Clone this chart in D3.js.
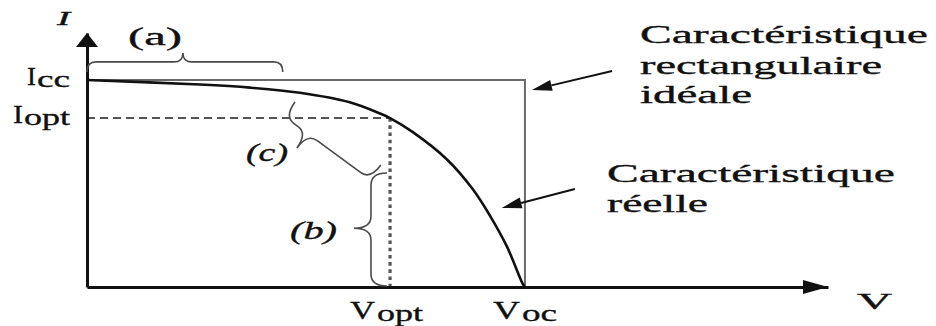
<!DOCTYPE html>
<html>
<head>
<meta charset="utf-8">
<script src="https://cdn.jsdelivr.net/npm/d3@7"></script>
<style>
  html, body { margin: 0; padding: 0; background: #fff; }
  svg { display: block; }
  text { font-family: "Liberation Serif", "Times New Roman", serif; fill: #111; stroke: #111; stroke-width: 0.35; }
</style>
</head>
<body>
<svg id="chart" width="936" height="326"></svg>
<script>
// Normalised I-V characteristic of a photovoltaic cell (V / Voc, I / Icc)
const curveV = [0, 0.258, 0.372, 0.486, 0.600, 0.669, 0.692, 0.744, 0.822, 0.881, 0.920, 0.959, 0.995, 1];
const curveI = [1, 0.978, 0.963, 0.938, 0.892, 0.838, 0.816, 0.748, 0.616, 0.472, 0.345, 0.195, 0.015, 0];

// Key operating values
const Icc = 1, Voc = 1;
const Iopt = 0.816, Vopt = 0.692;

// Axis extents (arrow tips)
const vAxisMax = 1.692, iAxisMax = 1.227;

// Axis labels: main letter + subscript
const yLabelMain = ["I", "I"];
const yLabelSub = ["cc", "opt"];
const yLabelVal = [Icc, Iopt];
const xLabelMain = ["V", "V"];
const xLabelSub = ["opt", "oc"];
const xLabelVal = [Vopt, Voc];

const svg = d3.select("#chart");
const x = d3.scaleLinear().domain([0, vAxisMax]).range([87, 828]);
const y = d3.scaleLinear().domain([0, iAxisMax]).range([287, 33]);

function label(txt, px, py, size, len, opts = {}) {
  return svg.append("text")
    .attr("x", px).attr("y", py)
    .attr("font-size", size)
    .attr("font-style", opts.italic ? "italic" : "normal")
    .attr("textLength", len)
    .attr("lengthAdjust", "spacingAndGlyphs")
    .text(txt);
}

// Ideal rectangular characteristic
svg.append("path")
  .attr("d", d3.line()([[x(0), y(Icc)], [x(Voc), y(Icc)], [x(Voc), y(0)]]))
  .attr("fill", "none").attr("stroke", "#6a6a6a").attr("stroke-width", 2);

// Optimum point guides
svg.append("line")
  .attr("x1", x(0)).attr("x2", x(Vopt)).attr("y1", y(Iopt)).attr("y2", y(Iopt))
  .attr("stroke", "#555").attr("stroke-width", 2).attr("stroke-dasharray", "8,5");
svg.append("line")
  .attr("x1", x(Vopt)).attr("x2", x(Vopt)).attr("y1", y(Iopt)).attr("y2", y(0))
  .attr("stroke", "#555").attr("stroke-width", 3.2).attr("stroke-dasharray", "3.6,3.6");

// Real characteristic
const pts = curveV.map((v, i) => [v, curveI[i]]);
svg.append("path")
  .attr("d", d3.line().x(d => x(d[0])).y(d => y(d[1])).curve(d3.curveCatmullRom.alpha(0.5))(pts))
  .attr("fill", "none").attr("stroke", "#111").attr("stroke-width", 2.6);

// Axes (no ticks, just the lines) with arrowheads
svg.append("g").attr("transform", `translate(0,${y(0)})`)
  .call(d3.axisBottom(x).tickValues([]).tickSizeOuter(0))
  .call(g => g.select(".domain").attr("stroke", "#111").attr("stroke-width", 3));
svg.append("g").attr("transform", `translate(${x(0)},0)`)
  .call(d3.axisLeft(y).tickValues([]).tickSizeOuter(0))
  .call(g => g.select(".domain").attr("stroke", "#111").attr("stroke-width", 3));

svg.append("path")
  .attr("d", `M${x(vAxisMax)},${y(0)} L${x(vAxisMax) - 25},${y(0) - 7} L${x(vAxisMax) - 25},${y(0) + 7} Z`)
  .attr("fill", "#111");
svg.append("path")
  .attr("d", `M${x(0)},${y(iAxisMax)} L${x(0) - 11},${y(iAxisMax) + 14} L${x(0) + 11},${y(iAxisMax) + 14} Z`)
  .attr("fill", "#111");

// Curly brace between two points: depth w at the tip, spine depth h,
// tip at fraction t along p1->p2, hook radius r
function brace(p1, p2, w, h, t, r) {
  const dx = p2[0] - p1[0], dy = p2[1] - p1[1], L = Math.hypot(dx, dy);
  const ux = dx / L, uy = dy / L, nx = uy, ny = -ux;
  const P = (s, d) => `${p1[0] + ux * s + nx * d},${p1[1] + uy * s + ny * d}`;
  const T = t * L;
  return `M${P(0, 0)} Q${P(0, h)} ${P(r, h)} L${P(T - r, h)} Q${P(T, h)} ${P(T, w)}` +
         ` M${P(L, 0)} Q${P(L, h)} ${P(L - r, h)} L${P(T + r, h)} Q${P(T, h)} ${P(T, w)}`;
}
const braces = [
  { a: [0, 1.039], b: [0.447, 1.039], w: 19, h: 10, t: 0.49, r: 9 },
  { a: [0.685, 0.005], b: [0.685, 0.551], w: 33, h: 16, t: 0.51, r: 12 },
  { a: [0.671, 0.589], b: [0.475, 0.894], w: 36, h: 18, t: 0.73, r: 12 }
];
braces.forEach(bc => {
  svg.append("path")
    .attr("d", brace([x(bc.a[0]), y(bc.a[1])], [x(bc.b[0]), y(bc.b[1])], bc.w, bc.h, bc.t, bc.r))
    .attr("fill", "none").attr("stroke", "#4a4a4a").attr("stroke-width", 1.6);
});

// Annotation arrows
function arrow(from, to) {
  const x1 = x(from[0]), y1 = y(from[1]), x2 = x(to[0]), y2 = y(to[1]);
  const a = Math.atan2(y2 - y1, x2 - x1), hl = 20, hw = 5.5;
  const bx = x2 - hl * Math.cos(a), by = y2 - hl * Math.sin(a);
  svg.append("line").attr("x1", x1).attr("y1", y1).attr("x2", bx).attr("y2", by)
    .attr("stroke", "#111").attr("stroke-width", 2);
  svg.append("path")
    .attr("d", `M${x2},${y2} L${bx + hw * Math.sin(a)},${by - hw * Math.cos(a)} L${bx - hw * Math.sin(a)},${by + hw * Math.cos(a)} Z`)
    .attr("fill", "#111");
}
arrow([1.199, 1.043], [1.016, 0.952]);
arrow([1.114, 0.473], [0.947, 0.382]);

// Axis labels
const yMainX = [27, 13], yMainLen = [9, 10], ySubX = [37, 24], ySubLen = [33, 46];
yLabelVal.forEach((v, i) => {
  label(yLabelMain[i], yMainX[i], y(v) + 5, 26, yMainLen[i]);
  label(yLabelSub[i], ySubX[i], y(v) + 7, 24, ySubLen[i]);
});
const xMainOff = [-40, -32], xSubOff = [-13, -3], xSubLen = [46, 35], xMainLen = [25, 27];
xLabelVal.forEach((v, i) => {
  label(xLabelMain[i], x(v) + xMainOff[i], y(0) + 32, 26, xMainLen[i]);
  label(xLabelSub[i], x(v) + xSubOff[i], y(0) + 34, 24, xSubLen[i]);
});
label("V", 857, 309, 23, 35);
label("I", 57, 25, 19, 13, { italic: true });

// Brace labels
label("(a)", 128, 45, 25, 54);
label("(c)", 246, 161, 25, 42, { italic: true });
label("(b)", 290, 239, 25, 47, { italic: true });

// Curve captions
label("Caractéristique", 640, 43, 26, 288);
label("rectangulaire", 640, 74, 26, 242);
label("idéale", 640, 103, 26, 112);
label("Caractéristique", 607, 182, 26, 288);
label("réelle", 607, 212, 26, 101);
</script>
</body>
</html>
